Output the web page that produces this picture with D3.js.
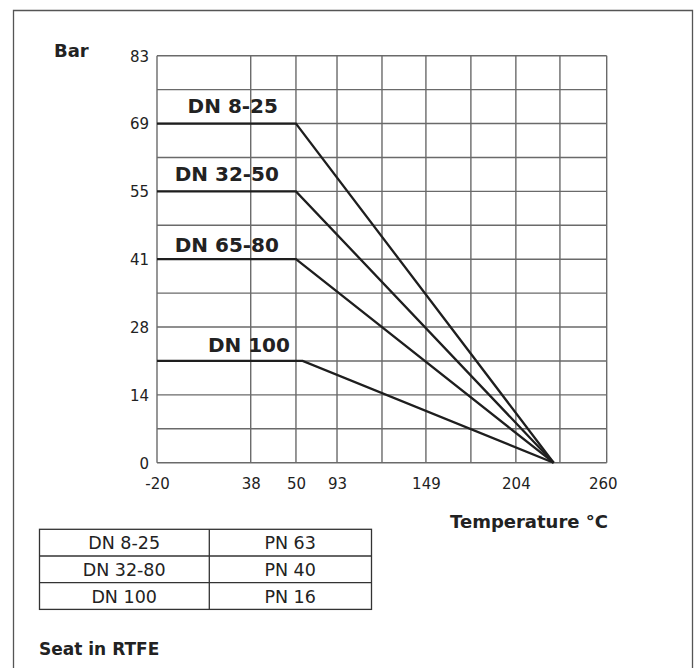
<!DOCTYPE html>
<html><head><meta charset="utf-8">
<script src="https://cdn.jsdelivr.net/npm/d3@7"></script>
<style>
html,body{margin:0;padding:0;background:#fff;}
svg{display:block;font-family:"DejaVu Sans",sans-serif;}
</style></head>
<body>
<svg id="c" width="694" height="668"></svg>
<script>
// ---- data ----
const seriesNames = ["DN 8-25", "DN 32-50", "DN 65-80", "DN 100"];
const pressures = [69, 55, 41, 21];          // bar, flat part
const kneeTemps = [50, 50, 50, 57];          // °C, end of flat part
const startTemp = -20;
const maxTemp = 228;                          // °C, where all lines reach 0 bar
const xTickLabels = [-20, 38, 50, 93, 149, 204, 260];
const xGridTemps = [-20, 38, 50, 93, 121, 149, 177, 204, 232, 260];
const yTickLabels = [0, 14, 28, 41, 55, 69, 83];
const yGridValues = [0, 7, 14, 21, 28, 34.5, 41, 48, 55, 62, 69, 76, 83];
const tableSizes = ["DN 8-25", "DN 32-80", "DN 100"];
const tablePN = ["PN 63", "PN 40", "PN 16"];

// ---- layout ----
const FONT = '"DejaVu Sans",sans-serif';
const svg = d3.select("#c");
const L = 157, R = 606.7, T = 55.7, B = 462.7;
const xFrac = [0, 0.2084, 0.309, 0.4003, 0.5003, 0.598, 0.698, 0.798, 0.896, 1];
const x = d3.scaleLinear().domain(xGridTemps).range(xFrac.map(f => L + f * (R - L)));
const y = d3.scaleLinear().domain(yTickLabels)
  .range(yTickLabels.map((d, i) => B - i * (B - T) / (yTickLabels.length - 1)));

// outer frame
svg.append("path").attr("d", "M13.5,700V10.5H692.5V700")
  .attr("fill", "none").attr("stroke", "#555").attr("stroke-width", 1.3);

// grid
const grid = svg.append("g").attr("stroke", "#6a6a6a").attr("stroke-width", 1.4);
grid.selectAll("line.h").data(yGridValues).join("line")
  .attr("x1", L).attr("x2", R).attr("y1", d => y(d)).attr("y2", d => y(d));
grid.selectAll("line.v").data(xGridTemps).join("line")
  .attr("y1", T).attr("y2", B).attr("x1", d => x(d)).attr("x2", d => x(d));

// axes (labels only)
const fmt = d => String(d);
const yAxis = d3.axisLeft(y).tickValues(yTickLabels).tickFormat(fmt).tickSize(0).tickPadding(8);
const ya = svg.append("g").attr("transform", `translate(${L},0)`).call(yAxis);
ya.select(".domain").remove();
ya.selectAll("text").attr("font-size", 15).attr("font-family", FONT).attr("fill", "#222").attr("dy", "0.36em");

const xAxis = d3.axisBottom(x).tickValues(xTickLabels).tickFormat(fmt).tickSize(0).tickPadding(16);
const xa = svg.append("g").attr("transform", `translate(0,${B})`).call(xAxis);
xa.select(".domain").remove();
xa.selectAll("text").attr("font-size", 15).attr("font-family", FONT).attr("fill", "#222")
  .attr("dx", d => d === 260 ? -4 : 0);

// series lines
const line = d3.line().x(d => x(d[0])).y(d => y(d[1]));
seriesNames.forEach((name, i) => {
  const pts = [[startTemp, pressures[i]], [kneeTemps[i], pressures[i]], [maxTemp, 0]];
  svg.append("path").attr("d", line(pts)).attr("fill", "none")
    .attr("stroke", "#1e1e1e").attr("stroke-width", 2.3).attr("stroke-linejoin", "miter");
});

// series labels
const labelDx = [-18, -17, -17, -6];
const labelDy = [-11, -10, -7, -9];
seriesNames.forEach((name, i) => {
  svg.append("text").text(name)
    .attr("x", x(50) + labelDx[i])
    .attr("y", y(pressures[i]) + labelDy[i])
    .attr("text-anchor", "end").attr("font-weight", "bold").attr("font-size", 20).attr("fill", "#222");
});

// axis titles
svg.append("text").text("Bar").attr("x", 54).attr("y", 57)
  .attr("font-weight", "bold").attr("font-size", 18).attr("fill", "#222");
svg.append("text").text("Temperature °C").attr("x", 608).attr("y", 528)
  .attr("text-anchor", "end").attr("font-weight", "bold").attr("font-size", 18).attr("fill", "#222");

// table
const tX = 39, tW = 332, tMid = 209.3, tY = 529.3, rowH = 26.7;
const tg = svg.append("g");
tg.append("rect").attr("x", tX + 0.5).attr("y", tY).attr("width", tW).attr("height", rowH * tableSizes.length)
  .attr("fill", "none").attr("stroke", "#333").attr("stroke-width", 1.3);
tg.append("line").attr("x1", tMid).attr("x2", tMid).attr("y1", tY).attr("y2", tY + rowH * tableSizes.length)
  .attr("stroke", "#333").attr("stroke-width", 1.3);
tableSizes.forEach((s, i) => {
  if (i > 0) tg.append("line").attr("x1", tX).attr("x2", tX + tW).attr("y1", tY + i * rowH).attr("y2", tY + i * rowH)
    .attr("stroke", "#333").attr("stroke-width", 1.3);
  tg.append("text").text(s).attr("x", (tX + tMid) / 2).attr("y", tY + i * rowH + 20)
    .attr("text-anchor", "middle").attr("font-size", 17.5).attr("fill", "#222");
  tg.append("text").text(tablePN[i]).attr("x", (tMid + tX + tW) / 2).attr("y", tY + i * rowH + 20)
    .attr("text-anchor", "middle").attr("font-size", 17.5).attr("fill", "#222");
});

svg.append("text").text("Seat in RTFE").attr("x", 39).attr("y", 655)
  .attr("font-weight", "bold").attr("font-size", 17).attr("fill", "#222");
</script>
</body></html>
